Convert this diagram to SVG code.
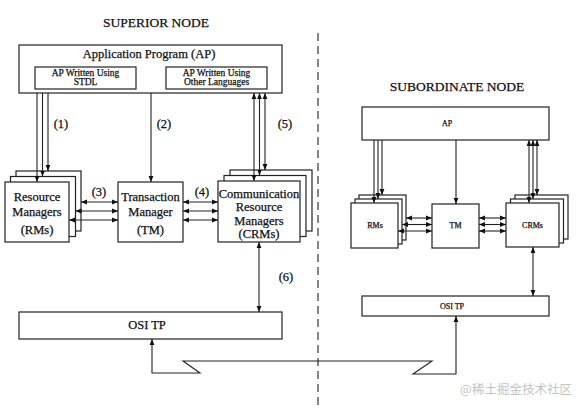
<svg xmlns="http://www.w3.org/2000/svg" width="584" height="409" viewBox="0 0 584 409">
<defs>
<marker id="ah" viewBox="0 0 6 6" markerWidth="6" markerHeight="6" refX="6" refY="3" orient="auto-start-reverse" markerUnits="userSpaceOnUse">
<path d="M0,0.6 L6,3 L0,5.4 z" fill="#111"/>
</marker>
<style>
.box{fill:#fff;stroke:#222;stroke-width:1.2}
.t{font-family:"Liberation Serif","DejaVu Serif",serif;fill:#111;stroke:#111;stroke-width:0.25;text-anchor:middle}
.big{font-size:13.5px}
.m{font-size:12.5px}
.s{font-size:9.5px}
.xs{font-size:8px}
.c line,.c polyline{stroke:#222;stroke-width:1.1;fill:none}
.e{marker-end:url(#ah)}
.b{marker-start:url(#ah);marker-end:url(#ah)}
</style>
</defs>
<rect width="584" height="409" fill="#fff"/>

<text class="t big" x="156" y="27">SUPERIOR NODE</text>
<text class="t big" x="457" y="91">SUBORDINATE NODE</text>

<line x1="318" y1="33" x2="318" y2="409" stroke="#222" stroke-width="1.1" stroke-dasharray="8,5"/>

<g id="sup-ap">
<rect class="box" x="19" y="45" width="263" height="48"/>
<text class="t m" x="149" y="58">Application Program (AP)</text>
<rect class="box" x="35" y="67" width="101" height="22"/>
<text class="t s" x="85.5" y="76">AP Written Using</text>
<text class="t s" x="85.5" y="85">STDL</text>
<rect class="box" x="166" y="67" width="101" height="22"/>
<text class="t s" x="216.5" y="76">AP Written Using</text>
<text class="t s" x="216.5" y="85">Other Languages</text>
</g>

<g id="sup-rms">
<rect class="box" x="16" y="171" width="65" height="60"/>
<rect class="box" x="10.5" y="176.5" width="65" height="60"/>
<rect class="box" x="5" y="182" width="64" height="60"/>
<text class="t m" x="37" y="201">Resource</text>
<text class="t m" x="37" y="216">Managers</text>
<text class="t m" x="37" y="234">(RMs)</text>
</g>

<g id="sup-tm">
<rect class="box" x="118" y="182" width="65" height="60"/>
<text class="t m" x="150.5" y="201">Transaction</text>
<text class="t m" x="150.5" y="216">Manager</text>
<text class="t m" x="150.5" y="234">(TM)</text>
</g>

<g id="sup-crms">
<rect class="box" x="230" y="170" width="82" height="61"/>
<rect class="box" x="224" y="175.5" width="82" height="61"/>
<rect class="box" x="218" y="181" width="82" height="61"/>
<text class="t m" x="259" y="198">Communication</text>
<text class="t m" x="259" y="211">Resource</text>
<text class="t m" x="259" y="225">Managers</text>
<text class="t m" x="259" y="238">(CRMs)</text>
</g>

<g id="sup-osi">
<rect class="box" x="19" y="312" width="263" height="27"/>
<text class="t m" x="147" y="329">OSI TP</text>
</g>

<g id="sub-ap">
<rect class="box" x="362" y="107" width="187" height="33"/>
<text class="t xs" x="447" y="126">AP</text>
</g>

<g id="sub-rms">
<rect class="box" x="359" y="195" width="47" height="45"/>
<rect class="box" x="355" y="199" width="47" height="45"/>
<rect class="box" x="351" y="203" width="47" height="45"/>
<text class="t xs" x="375" y="228">RMs</text>
</g>

<g id="sub-tm">
<rect class="box" x="432" y="204" width="47" height="44"/>
<text class="t xs" x="455.5" y="228">TM</text>
</g>

<g id="sub-crms">
<rect class="box" x="515" y="195" width="53" height="44"/>
<rect class="box" x="510.5" y="199" width="53" height="44"/>
<rect class="box" x="506" y="203" width="53" height="44"/>
<text class="t xs" x="532.5" y="228">CRMs</text>
</g>

<g id="sub-osi">
<rect class="box" x="362" y="296" width="187" height="20"/>
<text class="t xs" x="452" y="309">OSI TP</text>
</g>

<g id="connectors" class="c">
<line class="e" x1="37" y1="93" x2="37" y2="182"/>
<line class="e" x1="42.5" y1="93" x2="42.5" y2="176.5"/>
<line class="e" x1="48" y1="93" x2="48" y2="171"/>
<line class="e" x1="151" y1="93" x2="151" y2="182"/>
<line class="b" x1="254" y1="93" x2="254" y2="181"/>
<line class="b" x1="259.5" y1="93" x2="259.5" y2="175.5"/>
<line class="b" x1="265" y1="93" x2="265" y2="170"/>
<line class="b" x1="81" y1="202" x2="118" y2="202"/>
<line class="b" x1="75.5" y1="211" x2="118" y2="211"/>
<line class="b" x1="69" y1="220" x2="118" y2="220"/>
<line class="b" x1="183" y1="202" x2="218" y2="202"/>
<line class="b" x1="183" y1="211" x2="218" y2="211"/>
<line class="b" x1="183" y1="220" x2="218" y2="220"/>
<line class="b" x1="259" y1="242" x2="259" y2="312"/>
<line class="e" x1="374" y1="140" x2="374" y2="203"/>
<line class="e" x1="378" y1="140" x2="378" y2="199"/>
<line class="e" x1="382" y1="140" x2="382" y2="195"/>
<line class="e" x1="456" y1="140" x2="456" y2="204"/>
<line class="b" x1="529" y1="140" x2="529" y2="203"/>
<line class="b" x1="533" y1="140" x2="533" y2="199"/>
<line class="b" x1="537" y1="140" x2="537" y2="195"/>
<line class="b" x1="406" y1="218" x2="432" y2="218"/>
<line class="b" x1="402" y1="224.5" x2="432" y2="224.5"/>
<line class="b" x1="398" y1="231" x2="432" y2="231"/>
<line class="b" x1="479" y1="218" x2="506" y2="218"/>
<line class="b" x1="479" y1="224.5" x2="506" y2="224.5"/>
<line class="b" x1="479" y1="231" x2="506" y2="231"/>
<line class="b" x1="533" y1="247" x2="533" y2="296"/>
<polyline class="b" points="152,339 152,373 200,373 183,361 432,361 413,374 456,374 456,316"/>
</g>

<g id="labels">
<text class="t m" x="61" y="128">(1)</text>
<text class="t m" x="164" y="128">(2)</text>
<text class="t m" x="285" y="128">(5)</text>
<text class="t m" x="99" y="196">(3)</text>
<text class="t m" x="202" y="196">(4)</text>
<text class="t m" x="286" y="281">(6)</text>
</g>

<text x="516" y="394" font-family="'Noto Sans CJK SC',sans-serif" font-size="12.5" fill="#c4c4c4" text-anchor="middle">@稀土掘金技术社区</text>
</svg>
